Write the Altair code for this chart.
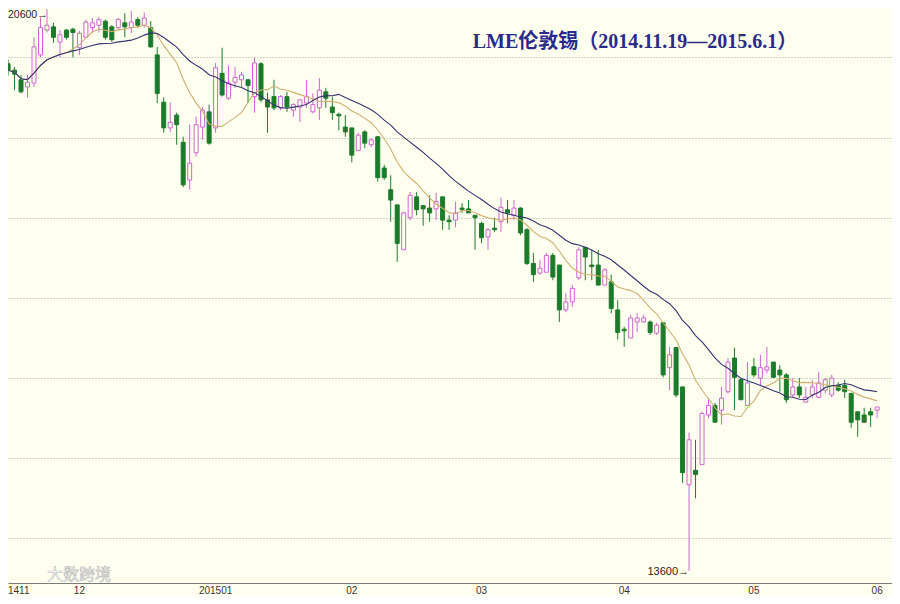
import altair as alt
import pandas as pd

# ---- data (LME tin daily candles) ----
opens = [19920, 19840, 19720, 19630, 19680, 20030, 20340, 20380, 20190, 20340,
         20350, 20120, 20250, 20370, 20400, 20450, 20380, 20370, 20430, 20370,
         20470, 20400, 20370, 20030, 19440, 19120, 19280, 18940, 18470, 18810,
         19130, 19320, 19120, 19800, 19490, 19690, 19720, 19720, 19510, 19920,
         19470, 19510, 19370, 19510, 19340, 19380, 19430, 19320, 19370, 19570,
         19380, 19290, 19130, 19120, 18840, 19070, 18910, 19010, 18620, 18350,
         18160, 17600, 18000, 18260, 18150, 18120, 18110, 18260, 17970, 17970,
         18120, 18110, 18030, 17930, 17760, 17870, 17950, 18100, 18030, 18120,
         17850, 17430, 17310, 17320, 17530, 17410, 16850, 16950, 17250, 17630,
         17410, 17410, 17160, 17200, 16850, 16610, 16500, 16700, 16700, 16700,
         16560, 16690, 16130, 16380, 15890, 14670, 14850, 14920, 15540, 15660,
         15600, 15830, 16250, 15980, 15660, 16140, 16000, 16100, 16200, 16100,
         16040, 15790, 15890, 15700, 15790, 15760, 15850, 15790, 15910, 15910,
         15810, 15580, 15540, 15580, 15600]
highs = [19970, 19880, 19780, 19780, 20250, 20500, 20600, 20430, 20340, 20350,
         20370, 20330, 20470, 20490, 20500, 20470, 20400, 20490, 20550, 20580,
         20500, 20560, 20450, 20130, 19500, 19440, 19310, 19010, 19160, 19260,
         19380, 19410, 19930, 20120, 19900, 19880, 19820, 19720, 20000, 19940,
         19560, 19720, 19530, 19570, 19430, 19470, 19720, 19550, 19740, 19620,
         19510, 19310, 19280, 19120, 19060, 19090, 18990, 19010, 18660, 18530,
         18160, 18070, 18320, 18320, 18160, 18280, 18310, 18260, 18030, 18200,
         18180, 18220, 18030, 17950, 17870, 18000, 18250, 18220, 18220, 18130,
         17870, 17560, 17470, 17560, 17560, 17410, 17060, 17160, 17630, 17630,
         17600, 17600, 17370, 17290, 16970, 16640, 16790, 16810, 16790, 16720,
         16690, 16700, 16390, 16380, 15890, 15320, 15230, 15580, 15750, 15690,
         15890, 16250, 16380, 16000, 16200, 16250, 16290, 16390, 16200, 16160,
         16060, 16000, 16000, 15890, 15980, 16080, 16000, 16040, 15950, 15980,
         15810, 15580, 15630, 15630, 15640]
lows = [19770, 19590, 19550, 19500, 19630, 20000, 20310, 20180, 20000, 20220,
        20000, 20030, 20240, 20310, 20310, 20220, 20190, 20340, 20250, 20300,
        20370, 20370, 20120, 19430, 19060, 19070, 18910, 18380, 18350, 18760,
        18970, 18910, 19060, 19510, 19470, 19620, 19630, 19430, 19310, 19440,
        19060, 19340, 19340, 19320, 19260, 19190, 19370, 19300, 19220, 19370,
        19220, 19090, 19010, 18690, 18840, 18870, 18880, 18450, 18470, 17950,
        17450, 17600, 17970, 18030, 17900, 17950, 17970, 17850, 17850, 17880,
        18060, 18060, 17600, 17680, 17600, 17820, 17820, 17930, 17970, 17780,
        17410, 17200, 17290, 17320, 17220, 16700, 16820, 16890, 17220, 17220,
        17220, 17160, 17160, 16810, 16480, 16390, 16500, 16570, 16690, 16540,
        16540, 16010, 15850, 15760, 14690, 13600, 14500, 14920, 15500, 15450,
        15420, 15810, 15600, 15730, 15660, 16010, 15910, 16060, 16000, 15830,
        15690, 15760, 15750, 15700, 15750, 15750, 15810, 15760, 15830, 15750,
        15380, 15270, 15440, 15390, 15500]
closes = [19840, 19790, 19570, 19690, 20130, 20370, 20400, 20250, 20280, 20250,
          20310, 20300, 20440, 20430, 20470, 20250, 20220, 20470, 20380, 20440,
          20400, 20490, 20130, 19550, 19120, 19190, 19160, 18410, 18680, 19160,
          19340, 18930, 19870, 19530, 19680, 19750, 19780, 19650, 19930, 19470,
          19380, 19370, 19510, 19380, 19410, 19470, 19510, 19410, 19590, 19490,
          19310, 19270, 19070, 18780, 19030, 18930, 18970, 18500, 18500, 18220,
          17680, 18060, 18280, 18100, 18110, 18060, 18200, 17970, 17950, 18060,
          18100, 18060, 18000, 17750, 17850, 17850, 18130, 18060, 18120, 17810,
          17430, 17290, 17370, 17530, 17260, 16850, 16950, 17120, 17600, 17510,
          17390, 17160, 17350, 16870, 16570, 16590, 16750, 16750, 16750, 16570,
          16660, 16040, 16290, 15790, 14820, 15230, 14800, 15560, 15660, 15450,
          15750, 16200, 16010, 15730, 15940, 16040, 16130, 16140, 16010, 16040,
          15730, 15890, 15790, 15760, 15890, 15940, 15980, 16000, 15850, 15830,
          15450, 15480, 15450, 15540, 15640]

first_lbl = "1411"
month_idx = [11, 32, 53, 73, 95, 115, 134]
month_lbl = ["12", "201501", "02", "03", "04", "05", "06"]
grid_vals = [14000, 15000, 16000, 17000, 18000, 19000, 20000]
max_txt = "20600\u2192"
min_idx = [105]
min_val = [13600]
min_txt = ["13600\u2192"]
title_txt = "LME伦敦锡（2014.11.19—2015.6.1）"

BG = "#FFFFF0"
UP = "#cc66cc"
DOWN = "#1b7b2b"
MA10_C = "#cfae72"
MA20_C = "#33336e"
LBL_FONT = "Liberation Sans Narrow, Liberation Sans, sans-serif"

df = pd.DataFrame({"i": list(range(len(opens))), "open": opens, "high": highs,
                   "low": lows, "close": closes})
df_m = pd.DataFrame({"i": month_idx, "lbl": month_lbl})
df_a = pd.DataFrame({"i": min_idx, "p": min_val, "t": min_txt})

xs = alt.Scale(domain=[0.762, 135.52], nice=False, zero=False)
ys = alt.Scale(domain=[13445, 20615], nice=False, zero=False)
x_axis = alt.Axis(title=None, labels=False, ticks=False, grid=False,
                  domain=True, domainColor="#7a7a7a", domainWidth=1)
y_axis = alt.Axis(title=None, labels=False, ticks=False, domain=False,
                  grid=True, values=grid_vals, gridColor="#a8a8a8",
                  gridDash=[1, 2], gridWidth=1)


def X():
    return alt.X("i:Q", scale=xs, axis=x_axis)


def Y(f):
    return alt.Y(f"{f}:Q", scale=ys, axis=y_axis)


is_up = "datum.close >= datum.open"
base = alt.Chart(df)

wicks = base.mark_rule(strokeWidth=1, clip=True).encode(
    x=X(), y=Y("low"), y2="high:Q",
    color=alt.condition(is_up, alt.value(UP), alt.value(DOWN)))

bodies = base.mark_bar(size=4, strokeWidth=1, clip=True).encode(
    x=X(), y=Y("open"), y2="close:Q",
    fill=alt.condition(is_up, alt.value(BG), alt.value(DOWN)),
    stroke=alt.condition(is_up, alt.value(UP), alt.value(DOWN)))

ma10 = base.transform_window(
    ma10="mean(close)", frame=[-9, 0], sort=[alt.SortField("i")]
).mark_line(color=MA10_C, strokeWidth=1.1, clip=True).encode(x=X(), y=Y("ma10"))

ma20 = base.transform_window(
    ma20="mean(close)", frame=[-19, 0], sort=[alt.SortField("i")]
).mark_line(color=MA20_C, strokeWidth=1.1, clip=True).encode(x=X(), y=Y("ma20"))

months = alt.Chart(df_m).mark_text(
    baseline="top", fontSize=10, color="#333333", font=LBL_FONT
).encode(x=X(), y=alt.value(578), text="lbl:N")

month0 = alt.Chart(pd.DataFrame({"t": [first_lbl]})).mark_text(
    align="left", baseline="top", fontSize=10, color="#333333", font=LBL_FONT
).encode(x=alt.value(0), y=alt.value(578), text="t:N")

ann_min = alt.Chart(df_a).mark_text(
    align="right", baseline="middle", dx=0, dy=1, fontSize=11, color="#222222",
    font=LBL_FONT
).encode(x=X(), y=Y("p"), text="t:N")

ann_max = alt.Chart(pd.DataFrame({"t": [max_txt]})).mark_text(
    align="left", baseline="top", fontSize=10.5, color="#222222", font=LBL_FONT
).encode(x=alt.value(0), y=alt.value(2), text="t:N")

title = alt.Chart(pd.DataFrame({"t": [title_txt]})).mark_text(
    fontSize=20, fontWeight="bold", color="#2a2a8a",
    font="Liberation Serif, Noto Sans CJK SC, serif"
).encode(x=alt.value(627), y=alt.value(34), text="t:N")

wm = alt.Chart(pd.DataFrame({"t": ["大数跨境"]})).mark_text(
    fontSize=16, fill="#ffffff", stroke="#b8b8b8", strokeWidth=0.6,
    font="Noto Sans CJK SC"
).encode(x=alt.value(71), y=alt.value(567), text="t:N")

chart = alt.layer(wicks, bodies, ma10, ma20, months, month0, ann_min, ann_max,
                  title, wm).properties(
    width=884, height=575,
    autosize=alt.AutoSizeParams(type="none"),
    padding={"left": 0, "top": 0, "right": 0, "bottom": 13},
    background=BG,
).configure_view(stroke=None)

chart.save("out.html", embed_options={"renderer": "svg", "actions": False})
